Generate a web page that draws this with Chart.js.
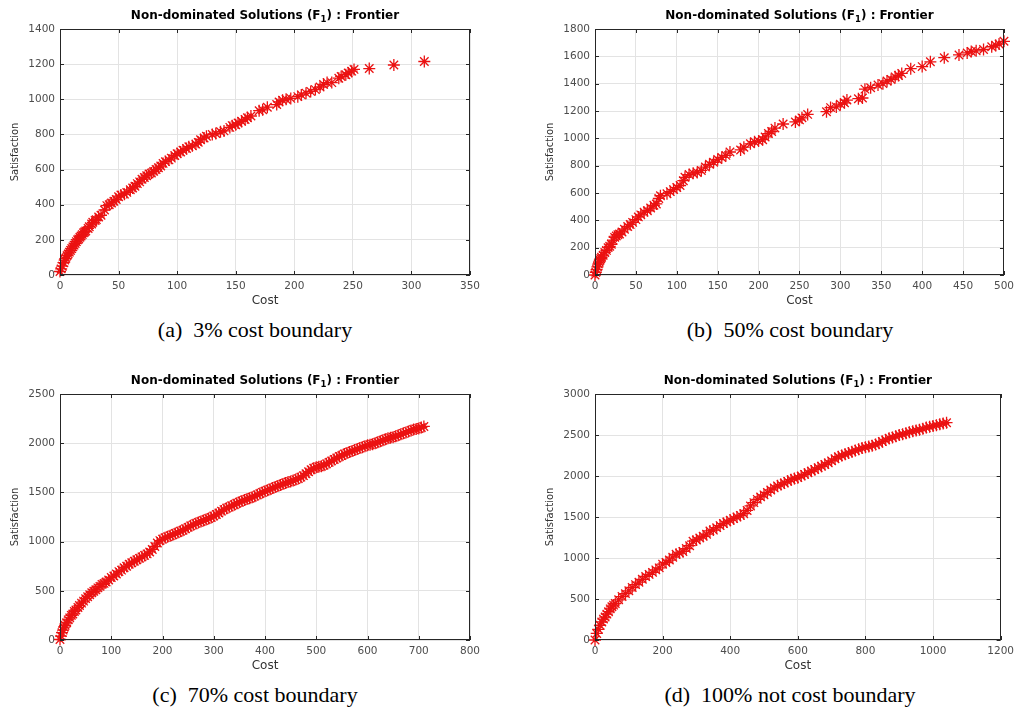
<!DOCTYPE html>
<html>
<head>
<meta charset="utf-8">
<script src="https://cdn.jsdelivr.net/npm/chart.js@4.4.1/dist/chart.umd.min.js"></script>
<style>
  body { margin: 0; background: #fff; width: 1019px; height: 707px; position: relative; overflow: hidden; }
  canvas { position: absolute; }
  .cap { position: absolute; font-family: "Liberation Serif", "Times New Roman", serif; font-size: 22px;
         color: #000; white-space: nowrap; transform: translateX(-50%); line-height: 24px; }
</style>
</head>
<body>
<canvas id="chartA" width="500" height="310" style="left:0;top:0"></canvas>
<canvas id="chartB" width="484" height="310" style="left:535px;top:0"></canvas>
<canvas id="chartC" width="500" height="310" style="left:0;top:365px"></canvas>
<canvas id="chartD" width="484" height="310" style="left:535px;top:365px"></canvas>
<div class="cap" style="left:255px;top:318px">(a)&nbsp; 3% cost boundary</div>
<div class="cap" style="left:790px;top:318px">(b)&nbsp; 50% cost boundary</div>
<div class="cap" style="left:255px;top:683px">(c)&nbsp; 70% cost boundary</div>
<div class="cap" style="left:790px;top:683px">(d)&nbsp; 100% not cost boundary</div>

<script>
// (a) 3% cost boundary
const costA = [0,1,2,3,4,5,6,7,8,9,10,11,12,13,14,15,16,17,18,19,20,21,22,24,25,27,28,30,31,33,35,38,40,42,44,46,48,50,52,55,57,60,62,64,66,68,70,72,74,76,78,80,82,84,86,88,90,93,95,98,100,103,105,108,110,113,116,118,120,123,125,130,133,137,140,145,147,150,152,155,158,160,163,170,173,177,185,187,190,193,197,203,206,210,214,218,222,225,228,232,238,240,244,246,249,251,264,285,311];
const satA  = [20,35,50,70,85,95,110,120,130,140,150,160,170,180,190,200,205,215,222,230,240,245,250,265,275,290,300,310,315,330,340,370,395,400,410,420,430,445,455,460,470,485,495,505,520,530,545,555,565,575,580,590,600,610,620,635,645,655,665,680,690,700,710,720,730,735,745,755,770,780,790,800,805,815,820,840,850,855,865,875,885,895,905,935,940,955,970,985,995,1000,1005,1015,1025,1035,1045,1055,1070,1085,1095,1095,1120,1130,1140,1150,1160,1170,1175,1195,1215];

// (b) 50% cost boundary
const costB = [0,1,2,3,4,5,6,7,8,10,12,14,16,18,20,22,24,26,28,30,33,36,40,43,46,50,53,56,60,64,68,72,75,78,80,88,92,96,100,104,108,110,115,120,125,130,135,140,145,150,155,160,165,178,182,190,195,200,205,208,212,216,220,230,245,250,253,260,283,288,295,300,305,308,322,327,330,337,346,352,357,362,367,371,375,386,400,410,427,445,455,460,466,475,485,490,494,500];
const satB  = [0,20,40,60,80,95,110,120,130,145,165,180,200,210,225,255,275,285,295,300,315,335,355,370,385,405,425,440,460,470,490,510,520,560,580,595,610,625,640,655,690,715,735,745,750,765,790,810,825,845,860,875,900,915,935,960,975,980,990,1010,1035,1050,1075,1105,1120,1135,1150,1175,1195,1225,1230,1250,1260,1280,1290,1295,1360,1370,1390,1400,1420,1430,1450,1460,1475,1510,1525,1560,1590,1610,1625,1635,1640,1650,1670,1680,1690,1710];

// (c) 70% cost boundary
const costC = [0,2,4,6,8,10,13,16,19,22,25,28,31,35,38,42,46,50,54,58,62,66,70,74,78,82,86,90,95,100,105,110,115,120,125,130,135,140,145,150,155,160,165,170,175,180,185,190,195,200,205,210,215,220,225,230,235,240,245,250,255,260,265,270,275,280,285,290,295,300,305,310,315,320,325,330,335,340,345,350,355,360,365,370,375,380,385,390,395,400,405,410,415,420,425,430,435,440,445,450,455,460,465,470,475,480,485,490,495,500,505,510,515,520,525,530,535,540,545,550,555,560,565,570,575,580,585,590,595,600,605,610,615,620,625,630,635,640,645,650,655,660,665,670,675,680,685,690,695,700,705,710];
const satC  = [5,40,75,100,130,150,175,205,225,250,265,290,305,330,350,375,395,420,440,460,480,495,510,530,545,565,575,590,610,635,650,670,695,710,735,750,770,785,800,815,830,845,860,875,895,920,950,985,1010,1025,1040,1050,1060,1070,1082,1092,1105,1115,1130,1145,1160,1170,1185,1195,1205,1215,1225,1235,1245,1260,1275,1290,1310,1325,1340,1350,1365,1375,1390,1400,1412,1422,1432,1440,1450,1462,1475,1488,1500,1512,1522,1532,1545,1555,1565,1575,1585,1595,1605,1610,1620,1630,1640,1655,1670,1690,1710,1730,1745,1755,1760,1765,1775,1790,1805,1820,1835,1850,1865,1875,1890,1900,1910,1920,1930,1940,1950,1960,1970,1980,1985,1990,2000,2010,2020,2030,2040,2050,2055,2060,2070,2080,2090,2100,2110,2120,2130,2140,2145,2150,2160,2170];

// (d) 100% not cost boundary
const costD = [0,5,10,15,20,25,30,35,40,45,50,55,60,70,80,90,100,110,120,130,140,150,160,170,180,190,200,210,220,230,240,250,260,270,280,290,300,310,320,330,340,350,360,370,380,390,400,410,420,430,440,450,460,470,480,490,500,510,520,530,540,550,560,570,580,590,600,610,620,630,640,650,660,670,680,690,700,710,720,730,740,750,760,770,780,790,800,810,820,830,840,850,860,870,880,890,900,910,920,930,940,950,960,970,980,990,1000,1010,1020,1030,1040];
const satD  = [0,80,130,180,220,255,280,315,345,380,405,425,445,490,530,565,600,640,675,705,740,775,800,825,855,880,925,945,975,1010,1045,1060,1080,1115,1150,1205,1220,1245,1265,1290,1330,1340,1370,1395,1420,1440,1460,1480,1500,1520,1540,1580,1635,1675,1715,1745,1770,1800,1830,1855,1880,1895,1915,1935,1955,1970,1980,2000,2020,2040,2060,2080,2100,2120,2140,2160,2185,2210,2235,2250,2265,2280,2295,2310,2325,2340,2350,2360,2370,2385,2400,2420,2440,2460,2470,2485,2500,2510,2520,2535,2545,2555,2565,2575,2590,2600,2610,2620,2630,2640,2650];

// axis ticks: [min, max, step]
const xTicksA = [0, 350, 50],  yTicksA = [0, 1400, 200];
const xTicksB = [0, 500, 50],  yTicksB = [0, 1800, 200];
const xTicksC = [0, 800, 100], yTicksC = [0, 2500, 500];
const xTicksD = [0, 1200, 200], yTicksD = [0, 3000, 500];

const titleParts = ['Non-dominated Solutions (F', '1', ') : Frontier'];
const axisColor = '#262626';
const tickColor = '#4d4d4d';
const sans = '"DejaVu Sans", sans-serif';

// MATLAB style box + inner tick marks + title with subscript
const framePlugin = {
  id: 'frame',
  afterDraw(chart) {
    const ctx = chart.ctx;
    const a = chart.chartArea;
    const xs = chart.scales.x, ys = chart.scales.y;
    ctx.save();
    ctx.strokeStyle = axisColor;
    ctx.lineWidth = 1;
    ctx.strokeRect(Math.round(a.left) + 0.5, Math.round(a.top) + 0.5,
                   Math.round(a.right - a.left) - 1, Math.round(a.bottom - a.top) - 1);
    ctx.beginPath();
    xs.ticks.forEach(t => {
      const px = Math.round(xs.getPixelForValue(t.value)) + 0.5;
      ctx.moveTo(px, a.bottom); ctx.lineTo(px, a.bottom - 4);
      ctx.moveTo(px, a.top); ctx.lineTo(px, a.top + 4);
    });
    ys.ticks.forEach(t => {
      const py = Math.round(ys.getPixelForValue(t.value)) + 0.5;
      ctx.moveTo(a.left, py); ctx.lineTo(a.left + 4, py);
      ctx.moveTo(a.right, py); ctx.lineTo(a.right - 4, py);
    });
    ctx.stroke();

    // title
    const big = 'bold 12px ' + sans, small = 'bold 8.5px ' + sans;
    ctx.font = big;
    const w1 = ctx.measureText(titleParts[0]).width;
    const w3 = ctx.measureText(titleParts[2]).width;
    ctx.font = small;
    const w2 = ctx.measureText(titleParts[1]).width;
    let x = (a.left + a.right) / 2 - (w1 + w2 + w3) / 2;
    const base = a.top - 10;
    ctx.fillStyle = '#000';
    ctx.textBaseline = 'alphabetic';
    ctx.textAlign = 'left';
    ctx.font = big; ctx.fillText(titleParts[0], x, base); x += w1;
    ctx.font = small; ctx.fillText(titleParts[1], x, base + 3); x += w2;
    ctx.font = big; ctx.fillText(titleParts[2], x, base);
    ctx.restore();
  }
};

function makeChart(id, xs, ys, xTicks, yTicks, padRight) {
  const points = xs.map((x, i) => ({x: x, y: ys[i]}));
  return new Chart(document.getElementById(id), {
    type: 'scatter',
    data: {
      datasets: [{
        data: points,
        pointStyle: 'star',
        pointRadius: 6,
        borderWidth: 1.3,
        borderColor: 'rgb(235,18,18)',
        backgroundColor: 'rgb(235,18,18)',
        clip: false
      }]
    },
    options: {
      responsive: false,
      animation: false,
      devicePixelRatio: 1,
      layout: {padding: {top: 29, right: padRight, left: 0, bottom: 0}},
      plugins: {legend: {display: false}, tooltip: {enabled: false}, title: {display: false}},
      scales: {
        x: {
          type: 'linear', min: xTicks[0], max: xTicks[1],
          ticks: {stepSize: xTicks[2], autoSkip: false, maxRotation: 0, padding: 5,
                  color: tickColor, font: {family: sans, size: 10.5}, callback: v => String(v)},
          grid: {color: '#e3e3e3', drawTicks: false},
          border: {display: false},
          title: {display: true, text: 'Cost', color: '#333', padding: {top: 0, bottom: 2},
                  font: {family: sans, size: 12}},
          afterFit: s => { s.height = 35; }
        },
        y: {
          type: 'linear', min: yTicks[0], max: yTicks[1],
          ticks: {stepSize: yTicks[2], autoSkip: false, padding: 5,
                  color: tickColor, font: {family: sans, size: 10.5}, callback: v => String(v)},
          grid: {color: '#e3e3e3', drawTicks: false},
          border: {display: false},
          title: {display: true, text: 'Satisfaction', color: '#333', padding: {top: 9, bottom: 0},
                  font: {family: sans, size: 10}},
          afterFit: s => { s.width = 60; }
        }
      }
    },
    plugins: [framePlugin]
  });
}

makeChart('chartA', costA, satA, xTicksA, yTicksA, 30);
makeChart('chartB', costB, satB, xTicksB, yTicksB, 14);
makeChart('chartC', costC, satC, xTicksC, yTicksC, 30);
makeChart('chartD', costD, satD, xTicksD, yTicksD, 14);
</script>
</body>
</html>
